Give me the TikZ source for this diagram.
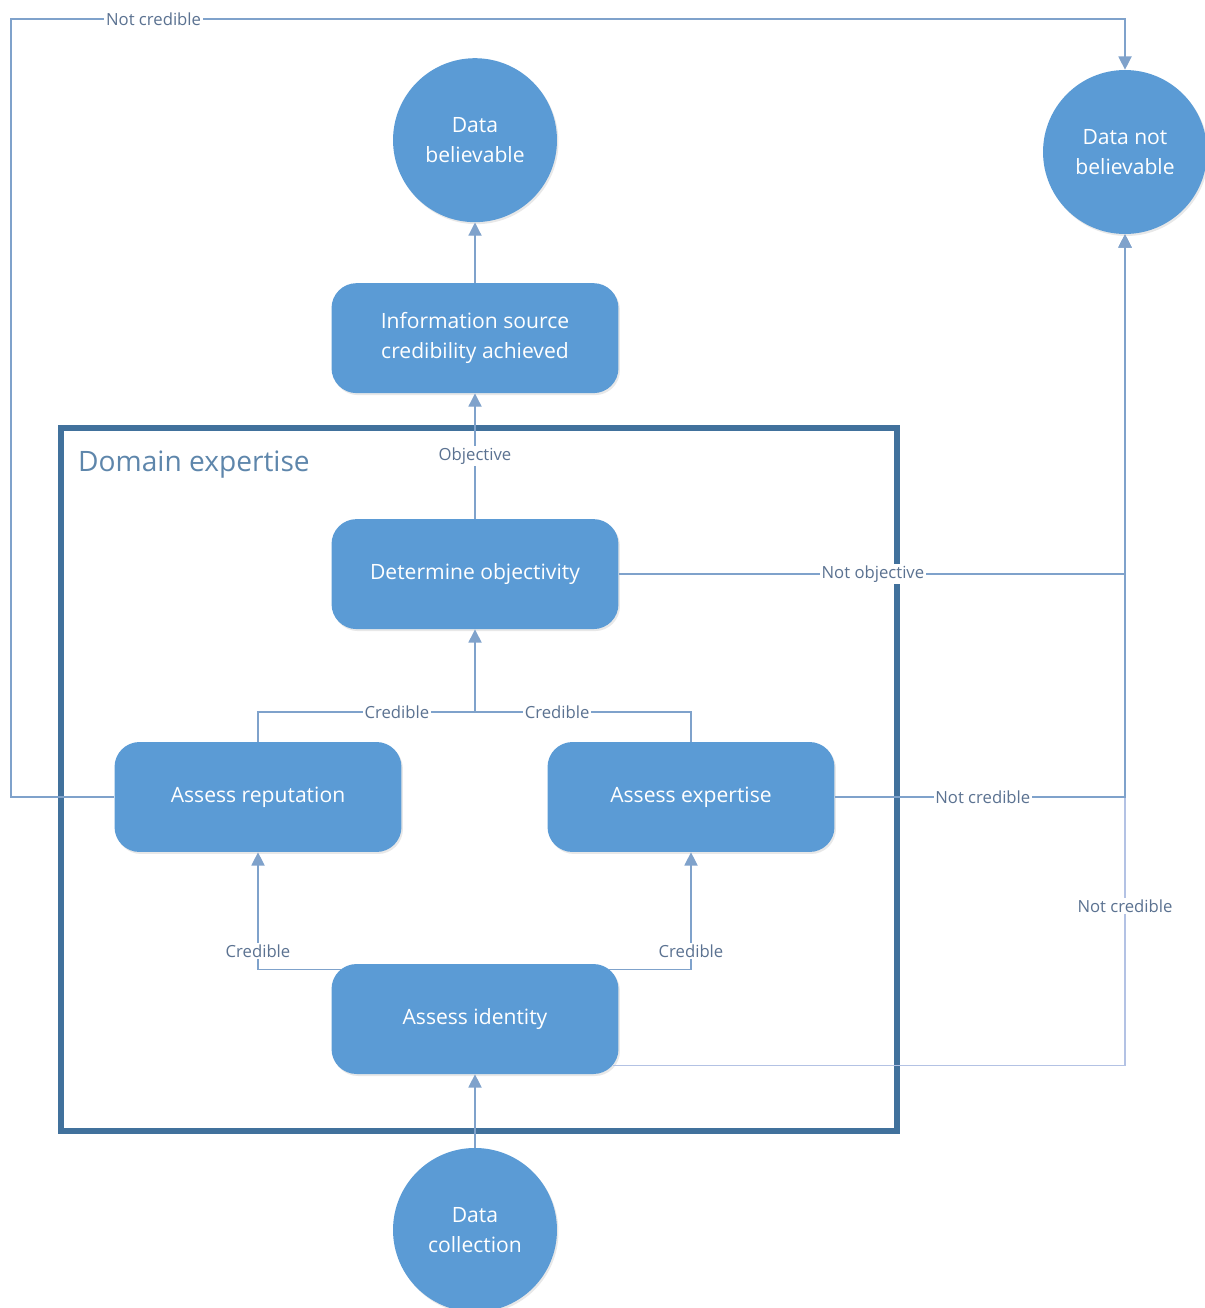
\documentclass[tikz,border=0pt]{standalone}
\usepackage{fontspec}
\setmainfont{Open Sans}
\usepackage{tikz}
\usetikzlibrary{calc,arrows.meta,shadows}

\definecolor{nodeblue}{HTML}{5B9BD5}
\definecolor{lineblue}{HTML}{7FA2CB}
\definecolor{paleline}{HTML}{B3C2E4}
\definecolor{frameblue}{HTML}{41719C}
\definecolor{labelgray}{HTML}{5B7291}

\tikzset{
  task/.style={rectangle,rounded corners=0.5cm,fill=nodeblue,text=white,
    minimum width=5.74cm,minimum height=2.2cm,align=center,
    font=\fontsize{12}{17}\selectfont,
    drop shadow={opacity=0.18,shadow xshift=0.03cm,shadow yshift=-0.04cm}},
  endstate/.style={circle,fill=nodeblue,text=white,minimum size=3.28cm,
    inner sep=0pt,align=center,font=\fontsize{12}{17}\selectfont,
    drop shadow={opacity=0.18,shadow xshift=0.03cm,shadow yshift=-0.04cm}},
  conn/.style={draw=lineblue,line width=0.7pt,-{Triangle[length=7.5pt,width=7.5pt]}},
  wire/.style={draw=lineblue,line width=0.7pt},
  lbl/.style={fill=white,text=labelgray,inner sep=1pt,font=\fontsize{9.5}{11}\selectfont},
  expframe/.style={draw=frameblue,line width=0.12cm,minimum width=16.72cm,minimum height=14.06cm}
}

\begin{document}
\begin{tikzpicture}[x=0.02cm,y=-0.02cm,node distance=4.5cm]
\useasboundingbox (0,0) rectangle (1204,1308);

% domain expertise frame
\node[expframe] (dom) at (479,779.5) {};
\node[anchor=west,text=frameblue!85,font=\fontsize{16}{18}\selectfont] (domt) at (72,465) {Domain expertise};

% nodes
\node[task] (ident) at (475,1019) {Assess identity};
\node[endstate] (coll) [below of=ident,node distance=4.22cm] {Data\\collection};
\node[task] (repu) at (258,797) {Assess reputation};
\node[task] (expe) at (691,797) {Assess expertise};
\node[task] (objt) [above of=ident,node distance=8.9cm] {Determine objectivity};
\node[task] (info) [above of=objt,node distance=4.72cm] {Information source\\credibility achieved};
\node[endstate] (beliv) [above of=info,node distance=3.96cm] {Data\\believable};
\node[endstate] (notbel) at (1125,152) {Data not\\believable};

\coordinate (jn) at (475,712);
\coordinate (cl) at (11,19);

% connectors
\draw[conn] (coll) -- (ident);
\draw[conn] ($(ident.north)+(-134,6)$) -| node[lbl,pos=0.58] {Credible} (repu);
\draw[conn] ($(ident.north)+(134,6)$) -| node[lbl,pos=0.58] {Credible} (expe);
\draw[wire] (repu) |- node[lbl,pos=0.82] {Credible} (jn);
\draw[wire] (expe) |- node[lbl,pos=0.81] {Credible} (jn);
\draw[conn] (jn) -- (objt);
\draw[conn] (objt) -- node[lbl] {Objective} (info);
\draw[conn] (info) -- (beliv);

\draw[conn,draw=paleline] ($(ident.south east)+(-6,-9)$) -| node[lbl,pos=0.596] {Not credible} (notbel);
\draw[conn] (objt) -| node[lbl,pos=0.251] {Not objective} (notbel);
\draw[conn] (expe) -| node[lbl,pos=0.255] {Not credible} (notbel);
\draw[conn] (repu) -| (cl) -| node[lbl,pos=0.064] {Not credible} (notbel);
\end{tikzpicture}
\end{document}
